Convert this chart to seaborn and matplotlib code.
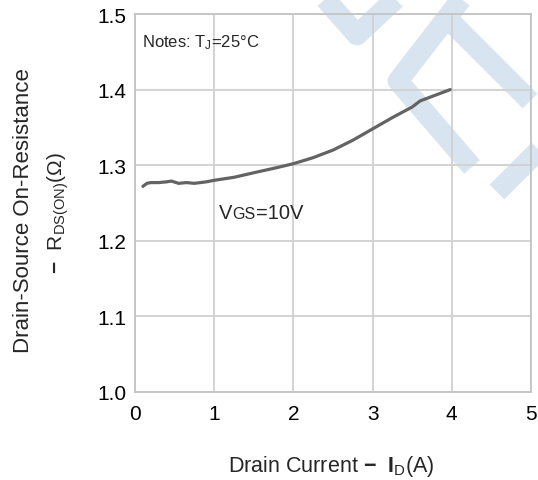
import matplotlib
matplotlib.use("Agg")
import matplotlib.pyplot as plt
from matplotlib.offsetbox import TextArea, HPacker, AnnotationBbox
import pandas as pd
import seaborn as sns

# Drain current (A) and on-resistance (ohm)
drain_current = [0.10, 0.15, 0.20, 0.30, 0.40, 0.46, 0.55, 0.65, 0.75, 0.90,
                 1.00, 1.25, 1.50, 1.80, 2.00, 2.25, 2.50, 2.75, 3.00, 3.25,
                 3.50, 3.60, 3.98]
on_resistance = [1.272, 1.276, 1.277, 1.277, 1.278, 1.279, 1.276, 1.277, 1.276, 1.278,
                 1.280, 1.284, 1.290, 1.297, 1.302, 1.310, 1.320, 1.333, 1.348, 1.363,
                 1.377, 1.385, 1.400]
x_ticks = [0, 1, 2, 3, 4, 5]
y_ticks = [1.0, 1.1, 1.2, 1.3, 1.4, 1.5]

df = pd.DataFrame({"Id": drain_current, "Rds": on_resistance})

sns.set_theme(style="white")
plt.rcParams["font.family"] = ["Liberation Sans", "DejaVu Sans"]
plt.rcParams["mathtext.fontset"] = "custom"
plt.rcParams["mathtext.rm"] = "Liberation Sans"
plt.rcParams["mathtext.it"] = "Liberation Sans:italic"
plt.rcParams["mathtext.bf"] = "Liberation Sans:bold"

W, H = 538, 481
fig = plt.figure(figsize=(W / 100, H / 100), dpi=100)
fig.patch.set_facecolor("white")

# background logo bands, drawn in pixel space
bg = fig.add_axes([0, 0, 1, 1], zorder=0)
bg.set_xlim(0, W)
bg.set_ylim(H, 0)
bg.axis("off")
band = dict(color="#d8e5f1", lw=15, solid_capstyle="butt", solid_joinstyle="round")
bg.plot([320, 357, 402], [-6, 36, -6], **band)
bg.plot([466, 398, 472], [-6, 82, 168], **band)
bg.plot([450, 530], [22, 102], **band)
bg.plot([562, 497], [128, 193], **band)

ax = fig.add_axes([135 / W, 1 - 393 / H, (531 - 135) / W, (393 - 15) / H], zorder=1)
ax.set_facecolor("none")

sns.lineplot(data=df, x="Id", y="Rds", ax=ax, color="#636363", linewidth=2.3, zorder=3)

ax.set_xlim(0, 5)
ax.set_ylim(1.0, 1.5)
ax.set_xticks(x_ticks)
ax.set_yticks(y_ticks)
ax.set_xticklabels([str(v) for v in x_ticks])
ax.set_yticklabels([f"{v:.1f}" for v in y_ticks])
ax.grid(True, color="#d0d0d0", linewidth=1.3, zorder=1)
ax.set_axisbelow(True)
for s in ax.spines.values():
    s.set_color("#c4c4c4")
    s.set_linewidth(1.3)
ax.tick_params(axis="both", length=0, labelsize=15, colors="black")
ax.tick_params(axis="y", pad=6)
ax.tick_params(axis="x", pad=9)
ax.set_xlabel("")
ax.set_ylabel("")

# annotations
ax.text(0.09, 1.464, r"Notes: T$_{\mathregular{J}}$=25°C", fontsize=12, va="center", ha="left")

vgs = HPacker(children=[TextArea("V", textprops=dict(fontsize=14.5)),
                        TextArea("GS", textprops=dict(fontsize=11.5)),
                        TextArea("=10V", textprops=dict(fontsize=14.5))],
              align="baseline", pad=0, sep=0)
ax.add_artist(AnnotationBbox(vgs, (1.06, 1.238), xycoords="data", frameon=False,
                             box_alignment=(0, 0.5), pad=0))

# axis titles
fig.text(24 / W, 1 - 211 / H, "Drain-Source On-Resistance", rotation=90,
         fontsize=16, ha="center", va="center")
fig.text(58 / W, 1 - 213 / H, r"$\mathbf{-}$  R$_{\mathregular{DS(ON)}}$(Ω)", rotation=90,
         fontsize=15, ha="center", va="center")
fig.text(331 / W, 1 - 467 / H, r"Drain Current $\mathbf{-}$  $\mathbf{I}_{\mathregular{D}}$(A)",
         fontsize=15.5, ha="center", va="center")

fig.savefig("out.png", dpi=100)
